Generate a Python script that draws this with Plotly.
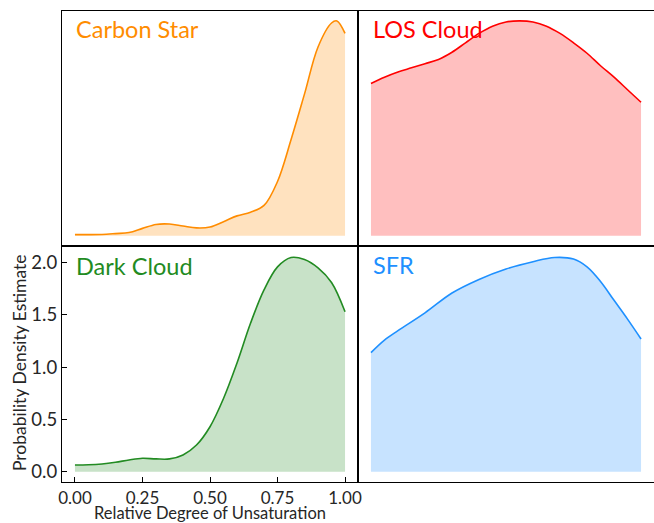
import plotly.graph_objects as go

W, H = 654, 523

# ---- data ----
carbon_x = [0.0, 0.05, 0.1, 0.15, 0.2, 0.25, 0.3, 0.35, 0.4, 0.45, 0.5, 0.55, 0.6, 0.65, 0.7, 0.75, 0.8, 0.85, 0.9, 0.95, 0.97, 1.0]
carbon_y = [0.01, 0.01, 0.012, 0.02, 0.03, 0.07, 0.108, 0.112, 0.093, 0.075, 0.083, 0.134, 0.19, 0.225, 0.29, 0.52, 0.92, 1.36, 1.81, 2.04, 2.06, 1.94]

los_x = [0.0, 0.05, 0.1, 0.15, 0.2, 0.25, 0.3, 0.35, 0.4, 0.45, 0.5, 0.55, 0.6, 0.65, 0.7, 0.75, 0.8, 0.85, 0.9, 0.95, 1.0]
los_y = [1.46, 1.52, 1.57, 1.61, 1.65, 1.69, 1.76, 1.85, 1.94, 2.01, 2.05, 2.06, 2.05, 2.01, 1.94, 1.85, 1.75, 1.63, 1.52, 1.40, 1.28]

dark_x = [0.0, 0.05, 0.1, 0.15, 0.2, 0.25, 0.3, 0.35, 0.4, 0.45, 0.5, 0.55, 0.6, 0.65, 0.7, 0.75, 0.8, 0.85, 0.9, 0.95, 1.0]
dark_y = [0.064, 0.066, 0.074, 0.09, 0.112, 0.128, 0.122, 0.122, 0.16, 0.255, 0.43, 0.70, 1.04, 1.42, 1.74, 1.96, 2.05, 2.03, 1.95, 1.81, 1.53]

sfr_x = [0.0, 0.05, 0.1, 0.2, 0.3, 0.4, 0.5, 0.6, 0.68, 0.75, 0.8, 0.85, 0.9, 0.95, 1.0]
sfr_y = [1.14, 1.26, 1.35, 1.52, 1.71, 1.84, 1.94, 2.01, 2.05, 2.035, 1.96, 1.82, 1.64, 1.46, 1.27]

names = ["Carbon Star", "LOS Cloud", "Dark Cloud", "SFR"]
line_colors = ["#FF8C00", "#FF0000", "#228B22", "#1E90FF"]
fill_colors = ["rgba(255,140,0,0.25)", "rgba(255,0,0,0.25)", "rgba(34,139,34,0.25)", "rgba(30,144,255,0.25)"]

xs = [carbon_x, los_x, dark_x, sfr_x]
ys = [carbon_y, los_y, dark_y, sfr_y]

x_ticks = [0.0, 0.25, 0.5, 0.75, 1.0]
y_ticks = [0.0, 0.5, 1.0, 1.5, 2.0]

FONT = "Lato"

def px(x):
    return x / W

def py(y):
    return 1 - y / H

fig = go.Figure()

for i in range(4):
    sfx = "" if i == 0 else str(i + 1)
    fig.add_trace(go.Scatter(
        x=xs[i], y=ys[i], mode="lines", line=dict(color=line_colors[i], width=1.6, shape="spline", smoothing=1.0),
        fill="tozeroy", fillcolor=fill_colors[i], xaxis="x" + sfx, yaxis="y" + sfx,
        showlegend=False, hoverinfo="skip"))

xl = [px(62), px(358)]
xr = [px(358), px(654)]
yt = [py(246), py(10.5)]
yb = [py(482), py(246)]

xrange = [-0.048, 1.048]
yrange = [-0.099, 2.16]

def xax(dom, anchor, labels):
    d = dict(domain=dom, anchor=anchor, range=xrange, showgrid=False, zeroline=False,
             showline=True, linecolor="black", linewidth=1.3, mirror=True,
             tickvals=x_ticks, tickformat=".2f")
    if labels:
        d.update(ticks="inside", ticklen=5, tickcolor="black", showticklabels=True,
                 tickfont=dict(family=FONT, size=17, color="#262626"))
    else:
        d.update(ticks="", showticklabels=False)
    return d

def yax(dom, anchor, labels, mirror):
    d = dict(domain=dom, anchor=anchor, range=yrange, showgrid=False, zeroline=False,
             showline=True, linecolor="black", linewidth=1.3, mirror=mirror,
             tickvals=y_ticks, tickformat=".1f")
    if labels:
        d.update(ticks="inside", ticklen=5, tickcolor="black", showticklabels=True,
                 tickfont=dict(family=FONT, size=18.5, color="#262626"))
    else:
        d.update(ticks="", showticklabels=False)
    return d

fig.update_layout(
    width=W, height=H, margin=dict(l=0, r=0, t=0, b=0, autoexpand=False),
    paper_bgcolor="white", plot_bgcolor="white",
    xaxis=xax(xl, "y", False), yaxis=yax(yt, "x", False, True),
    xaxis2=xax(xr, "y2", False), yaxis2=yax(yt, "x2", False, False),
    xaxis3=xax(xl, "y3", True), yaxis3=yax(yb, "x3", True, True),
    xaxis4=xax(xr, "y4", False), yaxis4=yax(yb, "x4", False, False),
)

title_pos = [(74, 29.5), (371, 29.5), (74, 265.5), (371, 265)]
anns = []
for i in range(4):
    anns.append(dict(text=names[i], x=px(title_pos[i][0]), y=py(title_pos[i][1]), xref="paper", yref="paper",
                     xanchor="left", yanchor="middle", showarrow=False,
                     font=dict(family=FONT, size=23.5, color=line_colors[i])))
anns.append(dict(text="Relative Degree of Unsaturation", x=px(210), y=py(512.5), xref="paper", yref="paper",
                 xanchor="center", yanchor="middle", showarrow=False,
                 font=dict(family=FONT, size=16.5, color="#262626")))
anns.append(dict(text="Probability Density Estimate", x=px(19), y=py(363), xref="paper", yref="paper",
                 xanchor="center", yanchor="middle", showarrow=False, textangle=-90,
                 font=dict(family=FONT, size=17.5, color="#262626")))
fig.update_layout(annotations=anns)

fig.write_html("out.html", config={"displayModeBar": False},
               post_script="document.body.style.margin='0';document.body.style.padding='0';")
